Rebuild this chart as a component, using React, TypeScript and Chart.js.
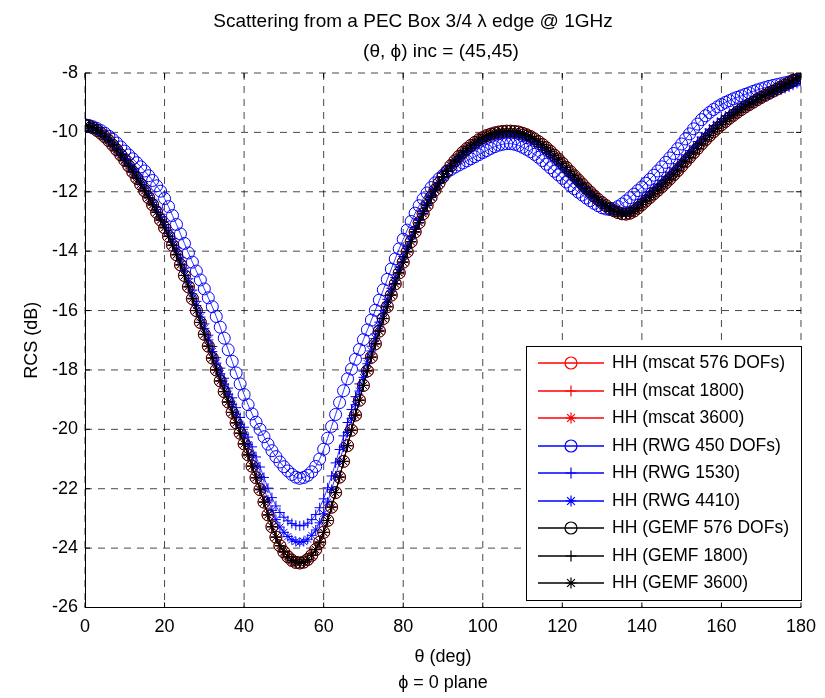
import React, { useEffect, useRef } from "react";
import { Chart, registerables } from "chart.js";

Chart.register(...registerables);

// ---------------- data ----------------
const thetaDeg: number[] = Array.from({ length: 181 }, (_, i) => i);

const xTickValues = [0, 20, 40, 60, 80, 100, 120, 140, 160, 180];
const yTickValues = [-26, -24, -22, -20, -18, -16, -14, -12, -10, -8];

// converged solutions (mscat and GEMF overlap)
const convergedRcs = [
  -9.75, -9.79, -9.85, -9.93, -10.03, -10.15, -10.28, -10.43, -10.59, -10.76,
  -10.94, -11.13, -11.33, -11.54, -11.75, -11.97, -12.2, -12.44, -12.69, -12.95,
  -13.21, -13.5, -13.8, -14.12, -14.46, -14.82, -15.2, -15.6, -16.0, -16.4,
  -16.8, -17.2, -17.6, -18.0, -18.37, -18.73, -19.08, -19.43, -19.78, -20.13,
  -20.49, -20.86, -21.24, -21.63, -22.03, -22.45, -22.88, -23.28, -23.63, -23.92,
  -24.13, -24.29, -24.41, -24.48, -24.5, -24.47, -24.38, -24.24, -24.05, -23.8,
  -23.47, -23.07, -22.62, -22.13, -21.61, -21.08, -20.55, -20.03, -19.52, -19.02,
  -18.52, -18.03, -17.57, -17.12, -16.69, -16.27, -15.87, -15.48, -15.1, -14.73,
  -14.37, -14.02, -13.68, -13.35, -13.04, -12.74, -12.46, -12.19, -11.94, -11.71,
  -11.5, -11.3, -11.12, -10.96, -10.81, -10.67, -10.55, -10.44, -10.34, -10.25,
  -10.18, -10.11, -10.06, -10.02, -9.99, -9.97, -9.96, -9.96, -9.97, -9.99,
  -10.03, -10.08, -10.14, -10.22, -10.31, -10.41, -10.52, -10.64, -10.77, -10.9,
  -11.04, -11.18, -11.32, -11.46, -11.6, -11.74, -11.88, -12.01, -12.14, -12.26,
  -12.37, -12.47, -12.56, -12.64, -12.7, -12.74, -12.75, -12.72, -12.65, -12.55,
  -12.43, -12.31, -12.19, -12.07, -11.95, -11.83, -11.7, -11.57, -11.43, -11.29,
  -11.14, -10.99, -10.84, -10.69, -10.54, -10.39, -10.25, -10.11, -9.98, -9.86,
  -9.74, -9.63, -9.52, -9.42, -9.32, -9.23, -9.14, -9.06, -8.98, -8.9,
  -8.82, -8.75, -8.68, -8.61, -8.54, -8.47, -8.4, -8.33, -8.25, -8.17, -8.08,
];

const rwg450 = [
  -9.75, -9.77, -9.81, -9.87, -9.94, -10.03, -10.13, -10.24, -10.36, -10.49,
  -10.63, -10.76, -10.89, -11.02, -11.16, -11.3, -11.46, -11.62, -11.8, -11.98,
  -12.23, -12.5, -12.8, -13.1, -13.42, -13.74, -14.06, -14.37, -14.67, -14.97,
  -15.27, -15.57, -15.87, -16.2, -16.56, -16.93, -17.32, -17.71, -18.1, -18.47,
  -18.83, -19.17, -19.48, -19.76, -20.0, -20.25, -20.5, -20.72, -20.92, -21.1,
  -21.26, -21.4, -21.52, -21.61, -21.65, -21.62, -21.55, -21.43, -21.25, -21.0,
  -20.67, -20.3, -19.9, -19.5, -19.1, -18.7, -18.3, -17.97, -17.64, -17.31,
  -16.98, -16.65, -16.32, -15.99, -15.65, -15.3, -14.95, -14.6, -14.26, -13.92,
  -13.6, -13.29, -13.0, -12.72, -12.47, -12.24, -12.04, -11.86, -11.7, -11.56,
  -11.44, -11.34, -11.25, -11.17, -11.1, -11.03, -10.96, -10.89, -10.82, -10.75,
  -10.68, -10.61, -10.54, -10.48, -10.43, -10.4, -10.38, -10.38, -10.4, -10.44,
  -10.5, -10.57, -10.65, -10.74, -10.84, -10.95, -11.07, -11.19, -11.31, -11.43,
  -11.55, -11.67, -11.79, -11.9, -12.01, -12.11, -12.21, -12.3, -12.39, -12.47,
  -12.54, -12.58, -12.6, -12.57, -12.5, -12.41, -12.31, -12.2, -12.08, -11.96,
  -11.84, -11.71, -11.58, -11.44, -11.3, -11.16, -11.01, -10.86, -10.71, -10.55,
  -10.39, -10.22, -10.05, -9.88, -9.72, -9.57, -9.44, -9.33, -9.23, -9.14,
  -9.06, -8.99, -8.93, -8.87, -8.82, -8.77, -8.72, -8.67, -8.62, -8.57,
  -8.53, -8.49, -8.45, -8.42, -8.39, -8.36, -8.33, -8.3, -8.27, -8.24, -8.2,
];

const rwg1530 = [
  -9.75, -9.79, -9.84, -9.92, -10.01, -10.13, -10.25, -10.4, -10.55, -10.71,
  -10.88, -11.06, -11.25, -11.44, -11.64, -11.84, -12.06, -12.28, -12.52, -12.76,
  -13.01, -13.29, -13.58, -13.89, -14.22, -14.57, -14.93, -15.31, -15.69, -16.07,
  -16.45, -16.83, -17.21, -17.59, -17.94, -18.28, -18.61, -18.94, -19.27, -19.6,
  -19.93, -20.26, -20.59, -20.93, -21.27, -21.62, -21.98, -22.3, -22.58, -22.8,
  -22.96, -23.08, -23.17, -23.23, -23.25, -23.23, -23.16, -23.04, -22.87, -22.64,
  -22.34, -21.97, -21.57, -21.13, -20.68, -20.22, -19.77, -19.33, -18.9, -18.47,
  -18.04, -17.61, -17.2, -16.79, -16.39, -16.0, -15.62, -15.25, -14.89, -14.53,
  -14.18, -13.85, -13.52, -13.21, -12.92, -12.64, -12.38, -12.13, -11.9, -11.69,
  -11.5, -11.32, -11.16, -11.02, -10.89, -10.76, -10.65, -10.55, -10.46, -10.38,
  -10.31, -10.24, -10.19, -10.15, -10.12, -10.1, -10.09, -10.09, -10.11, -10.13,
  -10.17, -10.23, -10.29, -10.37, -10.47, -10.57, -10.68, -10.8, -10.93, -11.06,
  -11.2, -11.33, -11.46, -11.59, -11.72, -11.85, -11.98, -12.09, -12.2, -12.31,
  -12.41, -12.49, -12.56, -12.62, -12.66, -12.68, -12.67, -12.62, -12.53, -12.41,
  -12.27, -12.13, -12.0, -11.87, -11.74, -11.61, -11.48, -11.34, -11.2, -11.06,
  -10.91, -10.76, -10.61, -10.46, -10.31, -10.16, -10.03, -9.89, -9.77, -9.66,
  -9.55, -9.45, -9.36, -9.28, -9.2, -9.13, -9.06, -9.0, -8.94, -8.88,
  -8.82, -8.77, -8.72, -8.67, -8.62, -8.57, -8.52, -8.47, -8.41, -8.35, -8.28,
];

const rwg4410 = [
  -9.75, -9.79, -9.84, -9.92, -10.02, -10.14, -10.26, -10.41, -10.57, -10.73,
  -10.91, -11.09, -11.29, -11.48, -11.69, -11.9, -12.12, -12.35, -12.59, -12.84,
  -13.1, -13.38, -13.68, -13.99, -14.33, -14.68, -15.05, -15.44, -15.83, -16.22,
  -16.6, -16.99, -17.38, -17.77, -18.13, -18.48, -18.82, -19.16, -19.49, -19.83,
  -20.18, -20.52, -20.88, -21.24, -21.6, -21.99, -22.38, -22.73, -23.04, -23.29,
  -23.47, -23.61, -23.72, -23.78, -23.8, -23.78, -23.7, -23.57, -23.39, -23.15,
  -22.84, -22.45, -22.03, -21.57, -21.09, -20.6, -20.11, -19.64, -19.17, -18.71,
  -18.25, -17.79, -17.36, -16.94, -16.52, -16.12, -15.73, -15.35, -14.98, -14.62,
  -14.26, -13.92, -13.59, -13.27, -12.97, -12.68, -12.42, -12.16, -11.92, -11.7,
  -11.5, -11.31, -11.14, -10.99, -10.85, -10.72, -10.61, -10.5, -10.41, -10.32,
  -10.25, -10.18, -10.13, -10.09, -10.06, -10.04, -10.03, -10.03, -10.05, -10.07,
  -10.11, -10.16, -10.22, -10.3, -10.4, -10.5, -10.61, -10.73, -10.86, -10.99,
  -11.13, -11.26, -11.4, -11.53, -11.67, -11.8, -11.94, -12.05, -12.17, -12.29,
  -12.39, -12.48, -12.56, -12.63, -12.68, -12.71, -12.71, -12.66, -12.58, -12.47,
  -12.34, -12.21, -12.08, -11.96, -11.83, -11.71, -11.58, -11.44, -11.3, -11.16,
  -11.01, -10.86, -10.71, -10.56, -10.41, -10.26, -10.13, -9.99, -9.86, -9.75,
  -9.63, -9.53, -9.43, -9.34, -9.25, -9.17, -9.1, -9.03, -8.96, -8.89,
  -8.82, -8.76, -8.7, -8.64, -8.58, -8.53, -8.47, -8.41, -8.34, -8.27, -8.19,
];

const seriesLabels = [
  "HH (mscat 576 DOFs)",
  "HH (mscat 1800)",
  "HH (mscat 3600)",
  "HH (RWG 450 DOFs)",
  "HH (RWG 1530)",
  "HH (RWG 4410)",
  "HH (GEMF 576 DOFs)",
  "HH (GEMF 1800)",
  "HH (GEMF 3600)",
];
const seriesValues = [
  convergedRcs, convergedRcs, convergedRcs,
  rwg450, rwg1530, rwg4410,
  convergedRcs, convergedRcs, convergedRcs,
];

// ---------------- styles ----------------
const FONT = "'Liberation Sans', Arial, Helvetica, sans-serif";
const seriesColors = [
  "#ff0000", "#ff0000", "#ff0000",
  "#0000ff", "#0000ff", "#0000ff",
  "#000000", "#000000", "#000000",
];
const plotMarkerColors = [
  "#ff0000", "#ff0000", "#ff0000",
  "#0000ff", "#0000ff", "#0000ff",
  "rgba(0,0,0,0.8)", "#000000", "#000000",
];
const markerStyles = ["circle", "cross", "star", "circle", "cross", "star", "circle", "cross", "star"];
const drawOrders = [3, 3, 3, 2, 2, 2, 1, 1, 1];

function drawMarker(ctx: CanvasRenderingContext2D, style: string, x: number, y: number, r: number) {
  ctx.beginPath();
  if (style === "circle") {
    ctx.arc(x, y, r, 0, Math.PI * 2);
  } else if (style === "cross") {
    ctx.moveTo(x - r, y); ctx.lineTo(x + r, y);
    ctx.moveTo(x, y - r); ctx.lineTo(x, y + r);
  } else {
    const d = r * Math.SQRT1_2;
    ctx.moveTo(x - r, y); ctx.lineTo(x + r, y);
    ctx.moveTo(x, y - r); ctx.lineTo(x, y + r);
    ctx.moveTo(x - d, y - d); ctx.lineTo(x + d, y + d);
    ctx.moveTo(x - d, y + d); ctx.lineTo(x + d, y - d);
  }
  ctx.stroke();
}

const matlabFrame = {
  id: "matlabFrame",
  beforeDatasetsDraw(chart: any) {
    const { ctx, chartArea: a, scales } = chart;
    const xs = scales.x, ys = scales.y;
    ctx.save();
    ctx.strokeStyle = "rgba(0,0,0,0.72)";
    ctx.lineWidth = 1;
    ctx.setLineDash([7, 6]);
    xs.ticks.forEach((t: any) => {
      const px = xs.getPixelForValue(t.value);
      ctx.beginPath(); ctx.moveTo(px, a.top); ctx.lineTo(px, a.bottom); ctx.stroke();
    });
    ys.ticks.forEach((t: any) => {
      const py = ys.getPixelForValue(t.value);
      ctx.beginPath(); ctx.moveTo(a.left, py); ctx.lineTo(a.right, py); ctx.stroke();
    });
    ctx.restore();
  },
  afterDatasetsDraw(chart: any) {
    const { ctx, chartArea: a, scales } = chart;
    const xs = scales.x, ys = scales.y;
    ctx.save();
    ctx.setLineDash([]);
    ctx.strokeStyle = "#000";
    ctx.lineWidth = 1;
    // left and bottom axis lines
    ctx.beginPath();
    ctx.moveTo(a.left + 0.5, a.top); ctx.lineTo(a.left + 0.5, a.bottom);
    ctx.moveTo(a.left, a.bottom); ctx.lineTo(a.right, a.bottom);
    ctx.stroke();
    // inward ticks
    const tl = 5;
    ctx.beginPath();
    xs.ticks.forEach((t: any) => {
      const px = xs.getPixelForValue(t.value);
      ctx.moveTo(px, a.bottom); ctx.lineTo(px, a.bottom - tl);
      ctx.moveTo(px, a.top); ctx.lineTo(px, a.top + tl);
    });
    ys.ticks.forEach((t: any) => {
      const py = ys.getPixelForValue(t.value);
      ctx.moveTo(a.left, py); ctx.lineTo(a.left + tl, py);
      ctx.moveTo(a.right, py); ctx.lineTo(a.right - tl, py);
    });
    ctx.stroke();

    // legend
    const lx = 526, ly = 346, lw = 275, lh = 254;
    ctx.fillStyle = "#fff";
    ctx.fillRect(lx, ly, lw, lh);
    ctx.strokeStyle = "#000";
    ctx.lineWidth = 1;
    ctx.strokeRect(lx + 0.5, ly + 0.5, lw, lh);
    ctx.font = `17.5px ${FONT}`;
    ctx.textBaseline = "middle";
    ctx.textAlign = "left";
    for (let i = 0; i < seriesLabels.length; i++) {
      const cy = Math.round(363 + i * 27.5);
      const col = seriesColors[i];
      ctx.strokeStyle = col;
      ctx.lineWidth = 1.6;
      ctx.beginPath();
      ctx.moveTo(538, cy);
      ctx.lineTo(604, cy);
      ctx.stroke();
      const st = markerStyles[i];
      ctx.lineWidth = 1.2;
      drawMarker(ctx, st, 571, cy, st === "circle" ? 6 : 5.5);
      ctx.fillStyle = "#000";
      ctx.fillText(seriesLabels[i], 612, cy + 0.5);
    }
    ctx.restore();
  },
  afterDraw(chart: any) {
    const { ctx, chartArea: a } = chart;
    const cx = (a.left + a.right) / 2;
    ctx.save();
    ctx.fillStyle = "#000";
    ctx.textBaseline = "alphabetic";
    ctx.font = `19px ${FONT}`;
    ctx.textAlign = "center";
    ctx.fillText("Scattering from a PEC Box 3/4 \u03BB edge @ 1GHz", 413, 27);
    ctx.fillText("(\u03B8, \u03D5) inc = (45,45)", cx - 2, 56.5);
    ctx.font = `18px ${FONT}`;
    ctx.fillText("\u03B8 (deg)", cx, 662);
    ctx.fillText("\u03D5 = 0 plane", cx, 688);
    ctx.translate(37, (a.top + a.bottom) / 2);
    ctx.rotate(-Math.PI / 2);
    ctx.fillText("RCS (dB)", 0, 0);
    ctx.restore();
  },
};

export default function App() {
  const canvasRef = useRef<HTMLCanvasElement | null>(null);

  useEffect(() => {
    document.body.style.margin = "0";
    const canvas = canvasRef.current;
    if (!canvas) return;

    const datasets = seriesLabels.map((label, i) => {
      const vals = seriesValues[i];
      const st = markerStyles[i];
      return {
        label,
        data: thetaDeg.map((t, j) => ({ x: t, y: vals[j] })),
        borderColor: seriesColors[i],
        borderWidth: 0.8,
        pointStyle: st,
        pointRadius: st === "circle" ? 6 : 5,
        pointBorderColor: plotMarkerColors[i],
        pointBackgroundColor: "rgba(0,0,0,0)",
        pointBorderWidth: 1,
        pointHoverRadius: 0,
        tension: 0,
        fill: false,
        order: drawOrders[i],
      };
    });

    const chart = new Chart(canvas, {
      type: "line",
      data: { datasets },
      options: {
        animation: false,
        responsive: false,
        maintainAspectRatio: false,
        devicePixelRatio: 1,
        events: [],
        layout: { padding: { left: 0, top: 73, right: 23, bottom: 60.5 } },
        plugins: {
          legend: { display: false },
          title: { display: false },
          tooltip: { enabled: false },
        },
        scales: {
          x: {
            type: "linear",
            min: 0,
            max: 180,
            afterBuildTicks: (scale: any) => {
              scale.ticks = xTickValues.map((v) => ({ value: v }));
            },
            afterFit: (scale: any) => { scale.height = 30; },
            grid: { display: false, drawTicks: false },
            border: { display: false },
            ticks: {
              color: "#000",
              font: { family: FONT, size: 18 },
              padding: 9,
              maxRotation: 0,
              autoSkip: false,
            },
          },
          y: {
            type: "linear",
            min: -26,
            max: -8,
            afterBuildTicks: (scale: any) => {
              scale.ticks = yTickValues.map((v) => ({ value: v }));
            },
            afterFit: (scale: any) => { scale.width = 85; },
            grid: { display: false, drawTicks: false },
            border: { display: false },
            ticks: {
              color: "#000",
              font: { family: FONT, size: 18 },
              padding: 7,
              autoSkip: false,
            },
          },
        },
      },
      plugins: [matlabFrame],
    } as any);

    return () => chart.destroy();
  }, []);

  return (
    <div style={{ width: 825, height: 698, background: "#fff" }}>
      <canvas ref={canvasRef} width={825} height={698} style={{ display: "block" }} />
    </div>
  );
}
